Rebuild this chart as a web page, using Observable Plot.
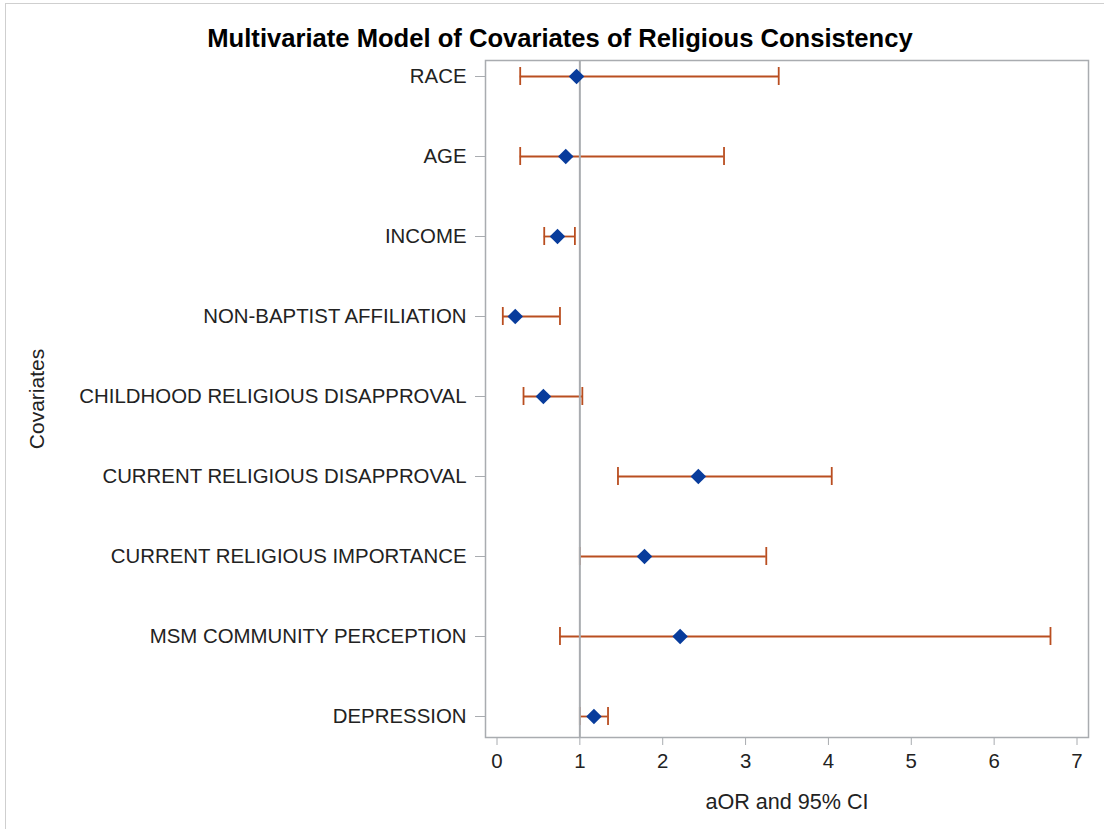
<!DOCTYPE html>
<html><head><meta charset="utf-8">
<script src="https://cdn.jsdelivr.net/npm/d3@7"></script>
<script src="https://cdn.jsdelivr.net/npm/@observablehq/plot@0.6"></script>
<style>
body{margin:0;background:#fff;}
#wrap{position:relative;width:1104px;height:829px;overflow:hidden;background:#fff;}
#border{position:absolute;left:5px;top:3px;width:1200px;height:900px;border-top:1px solid #cfcfcf;border-left:1px solid #cfcfcf;pointer-events:none;}
#title{height:56px;box-sizing:border-box;padding-top:24px;padding-left:16px;line-height:28px;text-align:center;font:bold 25.6px "Liberation Sans",Arial,sans-serif;color:#000;white-space:nowrap;}
#chart svg{display:block;}
</style></head>
<body>
<div id="wrap">
<div id="border"></div>
<div id="title">Multivariate Model of Covariates of Religious Consistency</div>
<div id="chart"></div>
</div>
<script>
const covariates = ["RACE","AGE","INCOME","NON-BAPTIST AFFILIATION","CHILDHOOD RELIGIOUS DISAPPROVAL","CURRENT RELIGIOUS DISAPPROVAL","CURRENT RELIGIOUS IMPORTANCE","MSM COMMUNITY PERCEPTION","DEPRESSION"];
const aor   = [0.96, 0.83, 0.73, 0.22, 0.56, 2.43, 1.78, 2.21, 1.17];
const lower = [0.28, 0.28, 0.57, 0.07, 0.32, 1.46, 1.00, 0.76, 1.00];
const upper = [3.40, 2.74, 0.94, 0.76, 1.03, 4.04, 3.25, 6.68, 1.34];
const xTicks = [0, 1, 2, 3, 4, 5, 6, 7];
const refValue = [1];

const rows = covariates.map((name, i) => ({name, aor: aor[i], lo: lower[i], hi: upper[i]}));

const gray = "#a9acb0";
const errColor = "#b94e20";
const markColor = "#083c9c";
const textColor = "#222";

const chart = Plot.plot({
  width: 1104,
  height: 773,
  marginLeft: 485,
  marginRight: 16,
  marginTop: 4,
  marginBottom: 92,
  style: {fontFamily: "'Liberation Sans', Arial, sans-serif", fontSize: "20px", color: textColor, background: "white"},
  x: {domain: [0, 7], range: [496.5, 1076.5]},
  y: {type: "band", domain: covariates, range: [4, 681], paddingInner: 0.775, paddingOuter: 0.11875, align: 0.368},
  marks: [
    Plot.frame({stroke: gray, strokeWidth: 1.5}),
    Plot.axisX({ticks: xTicks, tickFormat: d => String(d), tickSize: 8, tickPadding: 8, stroke: gray, fill: textColor, fontSize: 20.4, label: null}),
    Plot.axisX({ticks: [], fill: textColor, fontSize: 21.6,
      label: "aOR and 95% CI", labelAnchor: "center", labelOffset: 71, labelArrow: "none"}),
    Plot.axisY({tickSize: 10, tickPadding: 9, stroke: gray, fill: textColor, fontSize: 20.4, label: null}),
    Plot.axisY({ticks: [], fill: textColor, fontSize: 21,
      label: "Covariates", labelAnchor: "center", labelOffset: 456}),
    Plot.ruleY(rows, {y: "name", x1: "lo", x2: "hi", stroke: errColor, strokeWidth: 1.8}),
    Plot.tickX(rows, {y: "name", x: "lo", stroke: errColor, strokeWidth: 1.8}),
    Plot.tickX(rows, {y: "name", x: "hi", stroke: errColor, strokeWidth: 1.8}),
    Plot.ruleX(refValue, {stroke: gray, strokeWidth: 2}),
    Plot.dot(rows, {y: "name", x: "aor", symbol: "diamond2", r: 7, fill: markColor, stroke: "none"})
  ]
});
document.getElementById("chart").appendChild(chart);
</script>
</body></html>
